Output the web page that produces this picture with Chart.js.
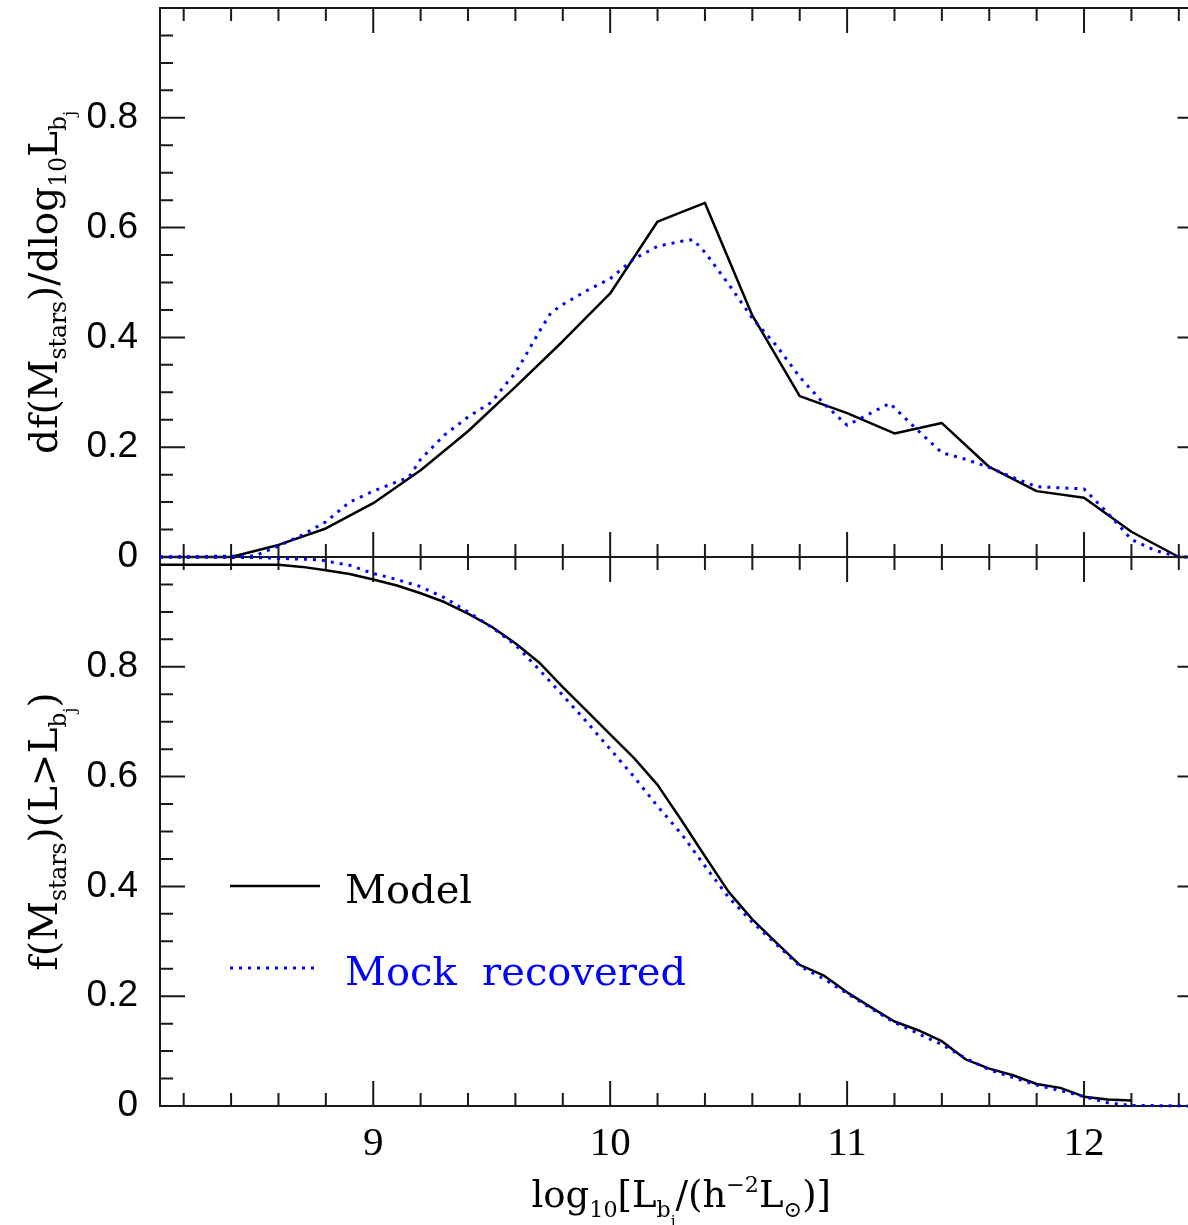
<!DOCTYPE html>
<html>
<head>
<meta charset="utf-8">
<script src="https://cdn.jsdelivr.net/npm/chart.js@4.4.1/dist/chart.umd.min.js"></script>
<style>
  html, body { margin: 0; padding: 0; background: #fff; overflow: hidden; }
  canvas { position: absolute; left: 0; }
  #haut { top: 0; }
  #bas { top: 540px; }
</style>
</head>
<body>
<canvas id="haut" width="1210" height="575" style="width:1210px;height:575px"></canvas>
<canvas id="bas" width="1210" height="685" style="width:1210px;height:685px"></canvas>
<script>
// ------------------------------------------------------------
// Deux panneaux empilés : dérivée (haut) et cumul (bas) de la
// fraction de masse stellaire en fonction de log10 L_bj.
// ------------------------------------------------------------

const NOIR  = '#000000'
const BLEU  = '#0000ff'
const TRAIT = '#1a1a1a'
const SANS  = "'Liberation Sans', Arial, sans-serif"
const SERIF = "'DejaVu Serif', serif"
const SERIF_CHIFFRES = "'Liberation Serif', serif"

// axes
const X_MIN = 8.1, X_MAX = 12.5
const X_TICKS  = [9, 10, 11, 12]
const X_LABELS = ['9', '10', '11', '12']
const Y_TICKS  = [0, 0.2, 0.4, 0.6, 0.8]
const Y_LABELS = ['0', '0.2', '0.4', '0.6', '0.8']

// panneau du haut : df/dlog10 L
const X_HAUT_MODELE = [8.1, 8.4, 8.6, 8.8, 9.0, 9.2, 9.4, 9.6, 9.8, 10.0, 10.2, 10.4, 10.6, 10.8, 11.0, 11.2, 11.4, 11.6, 11.8, 12.0, 12.2, 12.4, 12.5]
const Y_HAUT_MODELE = [0, 0, 0.022, 0.052, 0.098, 0.158, 0.229, 0.31, 0.393, 0.48, 0.611, 0.645, 0.44, 0.293, 0.262, 0.225, 0.244, 0.164, 0.12, 0.108, 0.046, 0, 0]

const X_HAUT_MOCK = [8.1, 8.5, 8.6, 8.7, 8.8, 8.9, 9.0, 9.1, 9.15, 9.2, 9.3, 9.4, 9.5, 9.55, 9.6, 9.7, 9.75, 9.8, 9.9, 10.0, 10.1, 10.2, 10.3, 10.35, 10.4, 10.5, 10.6, 10.7, 10.8, 10.9, 11.0, 11.1, 11.18, 11.3, 11.4, 11.5, 11.6, 11.7, 11.8, 11.9, 12.0, 12.1, 12.2, 12.3, 12.4, 12.5]
const Y_HAUT_MOCK = [0, 0.002, 0.02, 0.04, 0.064, 0.1, 0.12, 0.137, 0.145, 0.178, 0.222, 0.255, 0.282, 0.31, 0.335, 0.41, 0.445, 0.46, 0.485, 0.507, 0.543, 0.566, 0.575, 0.578, 0.555, 0.497, 0.435, 0.386, 0.328, 0.28, 0.24, 0.262, 0.28, 0.23, 0.19, 0.178, 0.163, 0.145, 0.128, 0.126, 0.124, 0.08, 0.032, 0.012, 0, 0]

// panneau du bas : f(L > L_bj)
const X_BAS_MODELE = [8.1, 8.6, 8.7, 8.8, 8.9, 9.0, 9.1, 9.2, 9.3, 9.4, 9.5, 9.6, 9.7, 9.8, 9.9, 10.0, 10.1, 10.2, 10.3, 10.4, 10.5, 10.6, 10.7, 10.8, 10.9, 11.0, 11.1, 11.2, 11.3, 11.4, 11.5, 11.6, 11.7, 11.8, 11.9, 12.0, 12.1, 12.2]
const Y_BAS_MODELE = [0.986, 0.986, 0.982, 0.976, 0.969, 0.959, 0.948, 0.934, 0.918, 0.897, 0.873, 0.843, 0.808, 0.763, 0.72, 0.677, 0.634, 0.585, 0.521, 0.455, 0.39, 0.34, 0.298, 0.257, 0.238, 0.207, 0.18, 0.154, 0.138, 0.118, 0.085, 0.068, 0.056, 0.04, 0.033, 0.017, 0.012, 0.01]

const X_BAS_MOCK = [8.1, 8.5, 8.77, 8.9, 9.0, 9.1, 9.2, 9.3, 9.4, 9.5, 9.6, 9.7, 9.8, 9.9, 10.0, 10.1, 10.2, 10.3, 10.4, 10.5, 10.6, 10.7, 10.8, 10.9, 11.0, 11.1, 11.2, 11.3, 11.4, 11.5, 11.6, 11.7, 11.8, 11.9, 12.0, 12.1, 12.2, 12.5]
const Y_BAS_MOCK = [1.0, 0.999, 0.995, 0.985, 0.97, 0.959, 0.946, 0.926, 0.9, 0.872, 0.84, 0.795, 0.748, 0.7, 0.65, 0.6, 0.546, 0.496, 0.437, 0.38, 0.335, 0.295, 0.255, 0.232, 0.205, 0.178, 0.152, 0.132, 0.112, 0.087, 0.066, 0.052, 0.038, 0.028, 0.017, 0.006, 0.001, 0]

// titres (texte, échelle, décalage vertical en fraction de la taille)
const TITRE_Y_HAUT = [['df(M', 1, 0], ['stars', 0.6, 0.24], [')/dlog', 1, 0], ['10', 0.6, 0.24], ['L', 1, 0], ['b', 0.6, 0.24], ['j', 0.42, 0.45]]
const TITRE_Y_BAS  = [['f(M', 1, 0], ['stars', 0.6, 0.24], [')(L>L', 1, 0], ['b', 0.6, 0.24], ['j', 0.42, 0.45], [')', 1, 0]]
const TITRE_X      = [['log', 1, 0], ['10', 0.6, 0.28], ['[L', 1, 0], ['b', 0.6, 0.28], ['j', 0.42, 0.5], ['/(h', 1, 0], ['\u22122', 0.6, -0.4], ['L', 1, 0], ['\u2299', 0.6, 0.28], [')]', 1, 0]]

const points = (xs, ys) => xs.map((x, i) => ({ x, y: ys[i] }))

function largeurRiche(ctx, morceaux, taille) {
  let w = 0
  for (const [t, e] of morceaux) {
    ctx.font = `${taille * e}px ${SERIF}`
    w += ctx.measureText(t).width
  }
  return w
}

// écrit un texte à indices, centré sur x, ligne de base en y
function ecrireRiche(ctx, morceaux, x, y, taille, couleur) {
  ctx.fillStyle = couleur
  ctx.textAlign = 'left'
  ctx.textBaseline = 'alphabetic'
  let cx = x - largeurRiche(ctx, morceaux, taille) / 2
  for (const [t, e, d] of morceaux) {
    ctx.font = `${taille * e}px ${SERIF}`
    ctx.fillText(t, cx, y + d * taille)
    cx += ctx.measureText(t).width
  }
}

// cadre + graduations intérieures (majeures et mineures) sur les 4 côtés
const cadre = {
  id: 'cadre',
  beforeDatasetsDraw(chart) {
    const { ctx, chartArea: a, scales: { x, y } } = chart
    ctx.save()
    ctx.strokeStyle = TRAIT
    ctx.lineWidth = 2
    ctx.strokeRect(a.left, a.top, a.right - a.left, a.bottom - a.top)
    ctx.beginPath()
    for (let k = 41; k <= 62; k++) {
      const v = k * 0.2
      const px = x.getPixelForValue(v)
      const l = Math.abs(v - Math.round(v)) < 1e-6 ? 25 : 13
      ctx.moveTo(px, a.top); ctx.lineTo(px, a.top + l)
      ctx.moveTo(px, a.bottom); ctx.lineTo(px, a.bottom - l)
    }
    for (let k = 1; k <= 19; k++) {
      const py = y.getPixelForValue(k * 0.05)
      const l = k % 4 === 0 ? 25 : 13
      ctx.moveTo(a.left, py); ctx.lineTo(a.left + l, py)
      ctx.moveTo(a.right, py); ctx.lineTo(a.right - l, py)
    }
    ctx.stroke()
    ctx.restore()
  },
  afterDraw(chart, args, opts) {
    const { ctx, chartArea: a } = chart
    ctx.save()
    ctx.translate(57, (a.top + a.bottom) / 2)
    ctx.rotate(-Math.PI / 2)
    ecrireRiche(ctx, opts.titreY, 0, 0, 39, NOIR)
    ctx.restore()
  },
}

// légende + titre de l'axe x (panneau du bas seulement)
const legende = {
  id: 'legende',
  afterDraw(chart) {
    const { ctx, chartArea: a } = chart
    ctx.save()
    ctx.lineWidth = 2.5
    ctx.strokeStyle = NOIR
    ctx.beginPath(); ctx.moveTo(230, 346); ctx.lineTo(320, 346); ctx.stroke()
    ctx.lineWidth = 3
    ctx.strokeStyle = BLEU
    ctx.setLineDash([3, 6])
    ctx.beginPath(); ctx.moveTo(230, 428); ctx.lineTo(318, 428); ctx.stroke()
    ctx.setLineDash([])
    ctx.font = `40px ${SERIF}`
    ctx.textAlign = 'left'
    ctx.textBaseline = 'alphabetic'
    ctx.fillStyle = NOIR
    ctx.fillText('Model', 345, 363)
    ctx.fillStyle = BLEU
    ctx.fillText('Mock  recovered', 345, 445)
    ecrireRiche(ctx, TITRE_X, (a.left + a.right) / 2, 667, 37, NOIR)
    ctx.restore()
  },
}

function panneau(id, cfg) {
  const canvas = document.getElementById(id)
  return new Chart(canvas.getContext('2d'), {
    type: 'line',
    data: {
      datasets: [
        {
          label: 'Model', data: points(cfg.xModele, cfg.yModele),
          borderColor: NOIR, borderWidth: 2.5, pointRadius: 0, tension: 0,
          borderJoinStyle: 'round', clip: false, order: 1,
        },
        {
          label: 'Mock recovered', data: points(cfg.xMock, cfg.yMock),
          borderColor: BLEU, borderWidth: 3, borderDash: [3, 6], pointRadius: 0, tension: 0,
          clip: false, order: 0,
        },
      ],
    },
    options: {
      responsive: false,
      animation: false,
      devicePixelRatio: 1,
      layout: { padding: cfg.padding, autoPadding: false },
      plugins: {
        legend: { display: false },
        tooltip: { enabled: false },
        cadre: { titreY: cfg.titreY },
      },
      scales: {
        x: {
          type: 'linear', min: X_MIN, max: X_MAX,
          display: cfg.axeX,
          grid: { display: false, drawTicks: false },
          border: { display: false },
          afterBuildTicks: s => { s.ticks = X_TICKS.map(v => ({ value: v })) },
          afterFit: s => { s.height = cfg.axeX ? 60 : 0; s.paddingLeft = 0; s.paddingRight = 0 },
          ticks: {
            callback: (v, i) => X_LABELS[i],
            color: NOIR, padding: 14, maxRotation: 0, autoSkip: false,
            font: { family: SERIF_CHIFFRES, size: 41 },
          },
        },
        y: {
          type: 'linear', min: 0, max: 1,
          grid: { display: false, drawTicks: false },
          border: { display: false },
          afterBuildTicks: s => { s.ticks = Y_TICKS.map(v => ({ value: v })) },
          afterFit: s => { s.width = 160; s.paddingTop = 0; s.paddingBottom = 0 },
          ticks: {
            callback: (v, i) => Y_LABELS[i],
            color: NOIR, padding: 22,
            font: { family: SANS, size: 37 },
          },
        },
      },
    },
    plugins: [cadre, ...(cfg.plugins ?? [])],
  })
}

panneau('haut', {
  xModele: X_HAUT_MODELE, yModele: Y_HAUT_MODELE,
  xMock: X_HAUT_MOCK, yMock: Y_HAUT_MOCK,
  titreY: TITRE_Y_HAUT, axeX: false,
  padding: { left: 0, top: 8, right: 7.5, bottom: 18 },
})

panneau('bas', {
  xModele: X_BAS_MODELE, yModele: Y_BAS_MODELE,
  xMock: X_BAS_MOCK, yMock: Y_BAS_MOCK,
  titreY: TITRE_Y_BAS, axeX: true,
  padding: { left: 0, top: 17, right: 7.5, bottom: 59 },
  plugins: [legende],
})
</script>
</body>
</html>
